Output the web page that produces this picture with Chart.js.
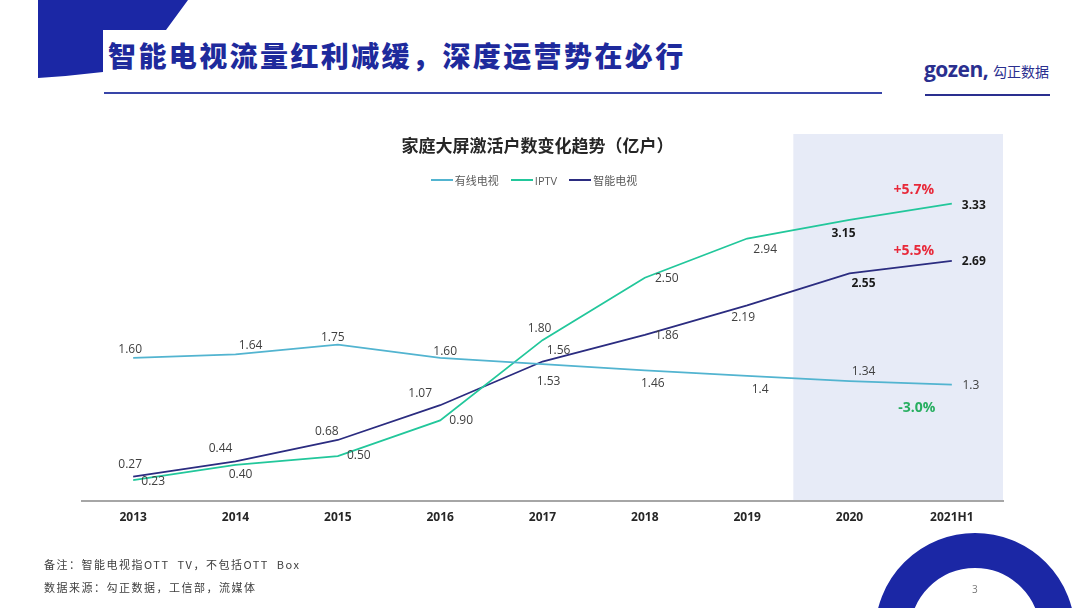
<!DOCTYPE html>
<html>
<head>
<meta charset="utf-8">
<script src="https://cdn.jsdelivr.net/npm/chart.js@4.4.1/dist/chart.umd.min.js"></script>
<style>
    html, body { margin: 0; padding: 0; background: #fff; }
    body {
        width: 1080px; height: 608px; position: relative; overflow: hidden;
        font-family: "Open Sans", "Noto Sans CJK SC", sans-serif;
    }
    #trendChart { position: absolute; left: 0; top: 0; }
    .abs { position: absolute; white-space: pre; }
    #slideTitle {
        left: 108px; top: 41px; line-height: 28px; font-size: 28px; letter-spacing: 2.4px;
        font-family: "Noto Sans CJK SC", sans-serif; font-weight: 900; color: #1E2A9C;
    }
    #chartTitle {
        left: 0; width: 1075px; top: 134px; line-height: 22px; text-align: center;
        font-family: "Noto Sans CJK SC", sans-serif; font-weight: 700; font-size: 17px; color: #262626;
    }
    #legend {
        left: 0; width: 1068px; top: 172px; height: 16px;
        display: flex; justify-content: center; align-items: center;
        font-size: 11px; color: #595959; font-family: "Noto Sans CJK SC", sans-serif;
    }
    .legend-item { display: flex; align-items: center; margin: 0 6px; }
    .legend-line { width: 22px; height: 2px; margin-right: 2px; }
    .note { left: 44px; font-size: 11px; line-height: 14px; color: #404040; letter-spacing: 1.5px;
        font-family: "Noto Sans CJK SC", sans-serif; }
    #logoText { left: 924px; top: 55px; font-size: 21px; font-weight: 700; color: #2A2F8F; letter-spacing: -0.5px;
        font-family: "Open Sans", sans-serif; }
    #logoCn { left: 993px; top: 61px; font-size: 14px; color: #2A2F8F; font-family: "Noto Sans CJK SC", sans-serif; }
    #pageNum { left: 972px; top: 582px; font-size: 10px; color: #777; }
</style>
</head>
<body>
<svg class="abs" style="left:0;top:0" width="1080" height="608">
    <path d="M38 0 H188 L166 30 L103 30 V72 Q70 76 38 78 Z" fill="#1B27A5"/>
    <rect x="104" y="92" width="778" height="2" fill="#3845A8"/>
    <rect x="925" y="94" width="125" height="2" fill="#2A2F8F"/>
    <circle cx="975" cy="633" r="82.5" fill="none" stroke="#1B27A5" stroke-width="35"/>
</svg>
<div id="slideTitle" class="abs">智能电视流量红利减缓，深度运营势在必行</div>
<div id="logoText" class="abs">gozen,</div>
<div id="logoCn" class="abs">勾正数据</div>
<canvas id="trendChart" width="1080" height="608"></canvas>
<div id="chartTitle" class="abs">家庭大屏激活户数变化趋势（亿户）</div>
<div id="legend" class="abs"></div>
<div class="abs note" style="top:557px">备注：智能电视指OTT  TV，不包括OTT  Box</div>
<div class="abs note" style="top:580px">数据来源：勾正数据，工信部，流媒体</div>
<div id="pageNum" class="abs">3</div>
<script>
const categories = ["2013", "2014", "2015", "2016", "2017", "2018", "2019", "2020", "2021H1"];
const seriesNames = ["有线电视", "IPTV", "智能电视"];
const cableTv = [1.60, 1.64, 1.75, 1.60, 1.53, 1.46, 1.40, 1.34, 1.30];
const iptv = [0.23, 0.40, 0.50, 0.90, 1.80, 2.50, 2.94, 3.15, 3.33];
const smartTv = [0.27, 0.44, 0.68, 1.07, 1.56, 1.86, 2.19, 2.55, 2.69];
// decimals shown on the cable labels (the slide prints 1.4 and 1.3)
const cableDecimals = [2, 2, 2, 2, 2, 2, 1, 2, 1];
// growth of the last half year, same order as seriesNames
const growthText = ["-3.0%", "+5.7%", "+5.5%"];

const colors = ["#52B4D0", "#22C79B", "#2B2C80"];
const fontFamily = '"Open Sans", "Noto Sans CJK SC", sans-serif';

// label placement relative to each point [dx, dy]
const labelOffsets = [
    [[-3, -8], [15, -9], [-5, -7], [5, -6], [6, 17], [8, 13], [13, 14], [14, -10], [19, 1]],
    [[20, 1], [5, 10], [21, 0], [21, 0], [-3, -12], [22, 1], [18, 11], [-6, 14], [22, 2]],
    [[-3, -12], [-15, -13], [-11, -8], [-20, -12], [16, -11], [22, 1], [-4, 12], [14, 10], [22, 1]]
];
const noteOffsets = [[-35, 23], [-38, -14], [-38, -10]];

function buildLegend() {
    const legend = document.getElementById("legend");
    seriesNames.forEach((name, i) => {
        const item = document.createElement("div");
        item.className = "legend-item";
        const line = document.createElement("span");
        line.className = "legend-line";
        line.style.background = colors[i];
        const text = document.createElement("span");
        text.textContent = name;
        if (name === "IPTV") text.style.fontFamily = fontFamily;
        item.appendChild(line);
        item.appendChild(text);
        legend.appendChild(item);
    });
}

const shadePlugin = {
    id: "shade",
    beforeDraw(chart) {
        const { ctx, chartArea, scales } = chart;
        const left = scales.x.getPixelForValue(6.5) - 5;
        const top = chartArea.top - 10;
        ctx.save();
        ctx.fillStyle = "#E7EBF7";
        ctx.fillRect(left, top, chartArea.right - left, chartArea.bottom - top);
        ctx.restore();
    }
};

const labelPlugin = {
    id: "pointLabels",
    afterDatasetsDraw(chart) {
        const ctx = chart.ctx;
        ctx.save();
        ctx.textAlign = "center";
        ctx.textBaseline = "middle";
        chart.data.datasets.forEach((ds, di) => {
            const meta = chart.getDatasetMeta(di);
            meta.data.forEach((pt, i) => {
                const bold = di > 0 && i >= 7;
                const digits = di === 0 ? cableDecimals[i] : 2;
                ctx.font = (bold ? "bold " : "") + "12px " + fontFamily;
                ctx.fillStyle = bold ? "#1a1a1a" : "#404040";
                const [dx, dy] = labelOffsets[di][i];
                ctx.fillText(ds.data[i].toFixed(digits), pt.x + dx, pt.y + dy);
            });
            // growth note next to the last point
            const last = meta.data[meta.data.length - 1];
            const [nx, ny] = noteOffsets[di];
            ctx.font = "bold 14px " + fontFamily;
            ctx.fillStyle = growthText[di].startsWith("-") ? "#27AE60" : "#E8293A";
            ctx.fillText(growthText[di], last.x + nx, last.y + ny);
        });
        ctx.restore();
    }
};

function makeDataset(label, data, color) {
    return {
        label: label,
        data: data,
        borderColor: color,
        backgroundColor: color,
        borderWidth: 1.8,
        pointRadius: 0,
        tension: 0,
        fill: false,
    };
}

buildLegend();
const ctx = document.getElementById("trendChart").getContext("2d");
new Chart(ctx, {
    type: "line",
    data: {
        labels: categories,
        datasets: [
            makeDataset(seriesNames[0], cableTv, colors[0]),
            makeDataset(seriesNames[1], iptv, colors[1]),
            makeDataset(seriesNames[2], smartTv, colors[2]),
        ],
    },
    options: {
        responsive: false,
        animation: false,
        layout: { padding: { left: 82, right: 77, top: 144, bottom: 73 } },
        plugins: {
            legend: { display: false },
            tooltip: { enabled: false },
        },
        scales: {
            x: {
                offset: true,
                grid: { display: false, drawTicks: false },
                border: { display: true, color: "#A6A6A6", width: 2 },
                ticks: {
                    color: "#262626",
                    padding: 10,
                    font: { family: fontFamily, size: 12, weight: "bold" },
                },
            },
            y: { display: false, min: 0, max: 4 },
        },
    },
    plugins: [shadePlugin, labelPlugin],
});
</script>
</body>
</html>
